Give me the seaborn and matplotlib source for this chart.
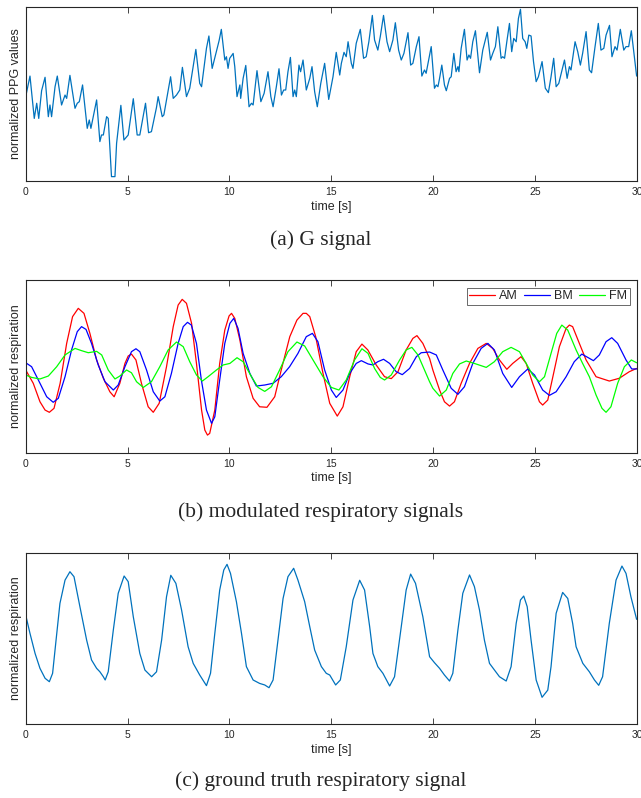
import matplotlib
matplotlib.use("Agg")
import matplotlib.pyplot as plt
import seaborn as sns
import pandas as pd

# ---- (a) G signal (PPG), time in s, normalized value 0..100
ppg_t = [0.00, 0.21, 0.42, 0.54, 0.64, 0.78, 0.95, 1.11, 1.19, 1.27, 1.44, 1.55, 1.76, 1.93, 2.01,
         2.17, 2.42, 2.53, 2.63, 2.79, 3.02, 3.12, 3.20, 3.48, 3.64, 3.72, 3.81, 3.97, 4.05, 4.21,
         4.38, 4.46, 4.67, 4.82, 5.03, 5.28, 5.47, 5.60, 5.88, 6.03, 6.17, 6.42, 6.50, 6.70, 6.78,
         7.11, 7.24, 7.40, 7.56, 7.69, 7.89, 8.05, 8.35, 8.54, 8.63, 8.87, 8.99, 9.15, 9.49,
         9.60, 9.77, 9.85, 9.93, 10.01, 10.18, 10.26, 10.37, 10.51, 10.55, 10.67, 10.80, 10.96, 11.08,
         11.16, 11.35, 11.54, 11.70, 11.89, 12.03, 12.14, 12.30, 12.43, 12.55, 12.66, 12.76, 12.87,
         12.99, 13.12, 13.20, 13.28, 13.41, 13.49, 13.61, 13.77, 13.94, 14.05, 14.18, 14.31, 14.48,
         14.67, 14.87, 15.08, 15.24, 15.41, 15.49, 15.62, 15.73, 15.82, 15.98, 16.06, 16.22, 16.42,
         16.58, 16.71, 16.84, 17.01, 17.12, 17.28, 17.40, 17.56, 17.73, 17.86, 18.02, 18.14, 18.30,
         18.43, 18.56, 18.76, 18.89, 19.00, 19.17, 19.30, 19.44, 19.57, 19.65, 19.82,
         19.90, 20.06, 20.15, 20.23, 20.31, 20.42, 20.55, 20.64, 20.80, 20.88, 21.01, 21.12, 21.21,
         21.26, 21.37, 21.53, 21.66, 21.75, 21.83, 21.94, 22.07, 22.27, 22.43, 22.65, 22.81, 22.92,
         23.05, 23.17, 23.33, 23.41, 23.50, 23.61, 23.74, 23.85, 23.95, 24.07, 24.18, 24.28, 24.39,
         24.51, 24.59, 24.69, 24.80, 24.92, 25.05, 25.16, 25.34, 25.50, 25.65, 25.78, 25.91, 26.03,
         26.16, 26.32, 26.44, 26.57, 26.68, 26.76, 26.96, 27.09, 27.22, 27.33, 27.50, 27.66, 27.77,
         27.94, 28.10, 28.23, 28.37, 28.48, 28.65, 28.77, 28.92, 29.02, 29.18, 29.35, 29.46, 29.59,
         29.72, 29.87, 29.98]
ppg_v = [48.4, 60.2, 35.9, 44.6, 35.9, 51.8, 59.5, 36.9, 43.6, 36.9, 54.1, 60.2, 43.6, 49.3, 47.4,
         60.6, 41.7, 44.6, 45.5, 55.1, 30.2, 35.0, 30.2, 46.5, 22.6, 26.4, 26.4, 36.9, 35.9, 2.5,
         2.5, 21.6, 43.4, 23.5, 26.4, 47.2, 26.4, 26.4, 44.6, 27.7, 28.3, 42.3, 48.4, 36.9, 37.9,
         59.8, 47.4, 49.3, 52.2, 65.2, 48.4, 53.2, 75.5, 56.0, 54.1, 76.1, 83.2, 64.6, 80.5,
         87.0, 69.4, 71.3, 64.6, 70.4, 73.2, 65.6, 48.4, 55.1, 47.4, 58.9, 66.3, 42.6, 44.6,
         43.6, 63.3, 45.5, 50.3, 62.7, 48.4, 42.6, 54.1, 64.4, 49.3, 52.2, 52.2, 62.7,
         70.9, 48.4, 52.2, 48.4, 66.5, 62.7, 69.4, 52.2, 58.9, 65.6, 51.2, 42.6, 56.0,
         67.5, 46.8, 59.8, 73.8, 60.8, 67.5, 73.8, 71.3, 79.9, 67.5, 64.6, 79.0, 87.0,
         70.4, 71.3, 79.9, 95.0, 80.9, 75.1, 82.8, 95.0, 79.9, 74.2, 80.9, 90.8, 75.1,
         69.4, 73.2, 85.1, 66.5, 67.5, 77.1, 82.8, 60.2, 63.7, 61.8, 72.3,
         77.1, 53.2, 55.1, 54.1, 58.9, 66.5, 55.1, 51.8, 58.9, 59.8, 73.2, 62.7, 65.6,
         62.7, 76.1, 87.0, 69.4, 72.3, 70.4, 79.9, 86.2, 62.1, 75.1, 85.3, 69.4, 73.2,
         77.1, 88.5, 70.4, 71.3, 70.4, 79.9, 90.4, 74.2, 81.8, 79.9, 93.3, 98.5, 81.8,
         79.9, 76.1, 83.7, 83.2, 68.5, 57.0, 59.8, 68.5, 53.2, 50.7, 59.8, 70.4, 54.1,
         56.0, 63.7, 69.4, 58.9, 65.6, 63.7, 79.9, 74.2, 66.5, 73.2, 85.7, 63.7, 62.1,
         77.1, 90.4, 75.1, 76.1, 83.7, 89.3, 71.3, 77.1, 75.1, 87.0, 75.1, 77.1, 77.1,
         86.2, 71.3, 60.2]

# ---- (b) modulated respiratory signals
am_t = [0.00, 0.37, 0.70, 0.95, 1.16, 1.39, 1.69, 2.01, 2.30, 2.58, 2.86, 3.15, 3.48, 3.81, 4.13,
        4.34, 4.62, 4.87, 5.03, 5.19, 5.41, 5.68, 6.01, 6.26, 6.55, 6.91, 7.24, 7.48, 7.68, 7.89,
        8.14, 8.38, 8.63, 8.79, 8.92, 9.03, 9.28, 9.52, 9.77, 9.98, 10.10, 10.26, 10.51, 10.83,
        11.16, 11.48, 11.84, 12.22, 12.54, 12.96, 13.31, 13.61, 13.77, 13.94, 14.23, 14.59, 14.92,
        15.29, 15.57, 15.90, 16.22, 16.50, 16.79, 17.20, 17.61, 17.94, 18.27, 18.67, 19.00, 19.20,
        19.49, 19.82, 19.98, 20.31, 20.55, 20.80, 21.04, 21.37, 21.78, 22.19, 22.60, 22.92, 23.25,
        23.61, 23.90, 24.31, 24.56, 24.88, 25.21, 25.37, 25.62, 25.87, 26.19, 26.52, 26.68, 26.84,
        27.17, 27.50, 27.99, 28.64, 29.13, 29.62, 29.98]
am_v = [47.9, 40.2, 29.5, 24.7, 23.4, 25.7, 40.2, 63.3, 78.8, 83.6, 80.7, 69.1, 53.7, 43.1, 35.3,
        32.4, 40.2, 51.7, 56.0, 57.1, 53.7, 40.2, 26.6, 23.4, 28.6, 49.8, 73.0, 85.5, 88.8, 86.5,
        74.9, 51.7, 24.7, 13.1, 10.2, 11.2, 24.7, 51.7, 71.0, 79.2, 80.7, 77.8, 65.3, 44.0,
        31.5, 26.6, 26.3, 32.4, 47.9, 67.2, 76.8, 80.7, 80.7, 78.8, 67.2, 45.9, 28.6,
        21.2, 26.6, 44.0, 58.5, 62.9, 59.5, 50.8, 44.0, 42.9, 46.9, 59.5, 66.2, 67.8,
        63.3, 54.6, 47.9, 36.3, 29.5, 27.0, 29.5, 40.2, 51.7, 60.4, 63.3, 60.4, 53.7,
        48.3, 51.7, 55.6, 51.7, 40.2, 29.5, 27.6, 30.5, 44.0, 61.4, 72.0, 73.9, 73.0,
        63.3, 53.7, 44.0, 41.5, 43.1, 46.9, 48.8]
bm_t = [0.00, 0.29, 0.62, 1.03, 1.35, 1.60, 1.93, 2.25, 2.53, 2.74, 2.96, 3.23, 3.56, 3.89, 4.30,
        4.54, 4.87, 5.19, 5.41, 5.60, 5.93, 6.26, 6.58, 6.83, 7.15, 7.48, 7.73, 7.94, 8.13, 8.38,
        8.62, 8.87, 9.12, 9.28, 9.52, 9.77, 10.02, 10.21, 10.42, 10.67, 11.00, 11.32, 11.73, 12.14,
        12.54, 12.95, 13.36, 13.77, 14.07, 14.34, 14.67, 15.00, 15.24, 15.57, 15.90, 16.22, 16.47,
        16.80, 17.04, 17.28, 17.56, 17.86, 18.18, 18.48, 18.84, 19.17, 19.41, 19.82, 20.15, 20.47,
        20.88, 21.21, 21.53, 21.94, 22.35, 22.68, 23.00, 23.41, 23.85, 24.23, 24.64, 24.97, 25.37,
        25.70, 26.03, 26.52, 26.92, 27.29, 27.58, 27.86, 28.15, 28.48, 28.76, 29.05, 29.46, 29.74,
        29.98]
bm_v = [52.1, 49.8, 42.1, 32.4, 29.2, 31.5, 44.0, 59.5, 70.1, 73.0, 71.4, 63.3, 50.8, 41.1, 36.3,
        39.2, 49.8, 58.5, 60.2, 58.5, 47.9, 35.3, 29.9, 32.4, 45.9, 63.3, 73.0, 75.5, 73.9, 63.3,
        42.1, 24.7, 17.0, 20.8, 42.1, 63.3, 74.9, 77.8, 72.0, 57.5, 45.9, 38.6, 39.2, 40.2,
        44.0, 49.8, 57.5, 67.2, 69.1, 64.3, 47.9, 36.3, 32.0, 36.3, 45.9, 51.7, 53.3,
        51.4, 50.8, 52.7, 54.1, 51.7, 46.9, 45.2, 48.8, 55.6, 57.9, 58.3, 56.6, 47.9,
        37.3, 33.8, 38.2, 51.7, 60.4, 63.3, 59.5, 45.9, 37.8, 44.0, 48.5, 45.0, 36.3,
        33.2, 35.3, 44.0, 52.7, 57.1, 55.2, 53.3, 56.6, 64.3, 66.6, 63.3, 53.7, 48.5,
        48.5]
fm_t = [0.00, 0.29, 0.70, 1.11, 1.52, 1.93, 2.42, 2.74, 3.07, 3.48, 3.73, 4.05, 4.38, 4.62, 4.95,
        5.19, 5.44, 5.77, 6.17, 6.58, 6.99, 7.40, 7.73, 8.05, 8.38, 8.67, 8.95, 9.36, 9.69, 10.02,
        10.37, 10.67, 11.08, 11.40, 11.73, 12.06, 12.46, 12.87, 13.31, 13.69, 14.10, 14.59, 15.00,
        15.37, 15.73, 16.14, 16.50, 16.80, 17.12, 17.40, 17.61, 17.94, 18.35, 18.67, 18.95, 19.25,
        19.57, 19.82, 19.98, 20.31, 20.64, 20.96, 21.29, 21.62, 22.02, 22.60, 23.00, 23.41, 23.82,
        24.23, 24.56, 24.88, 25.21, 25.46, 25.78, 26.06, 26.31, 26.60, 27.01, 27.33, 27.66, 27.99,
        28.28, 28.48, 28.72, 29.05, 29.38, 29.72, 29.98]
fm_v = [45.0, 43.6, 42.7, 44.4, 49.8, 56.6, 60.4, 59.1, 57.9, 58.7, 56.6, 47.9, 42.7, 44.4, 47.9,
        46.3, 41.1, 37.8, 41.1, 49.8, 59.5, 64.1, 61.4, 52.7, 45.0, 41.5, 44.0, 47.9, 50.8, 51.7,
        55.0, 52.7, 44.0, 37.8, 35.5, 38.2, 47.9, 58.5, 64.1, 61.8, 53.7, 44.0, 37.8,
        36.3, 42.1, 53.7, 60.2, 57.5, 48.8, 43.6, 42.1, 45.0, 53.7, 59.5, 61.0, 56.6,
        47.9, 41.1, 37.3, 32.8, 36.3, 45.9, 51.4, 53.1, 51.7, 49.4, 52.7, 58.5, 61.0,
        58.5, 51.7, 45.0, 41.1, 44.0, 57.5, 69.1, 73.9, 71.0, 59.5, 51.7, 44.0, 33.4,
        25.7, 23.4, 26.6, 40.2, 49.8, 53.7, 52.1]

# ---- (c) ground truth respiratory signal
resp_t = [0.00, 0.21, 0.46, 0.70, 0.95, 1.16, 1.32, 1.49, 1.68, 1.93, 2.17, 2.37, 2.66, 2.99, 3.23,
          3.48, 3.64, 3.81, 3.90, 4.05, 4.30, 4.54, 4.83, 5.03, 5.28, 5.60, 5.85, 6.18, 6.42, 6.67,
          6.91, 7.12, 7.37, 7.65, 7.97, 8.22, 8.54, 8.87, 9.07, 9.28, 9.52, 9.72, 9.88, 10.05, 10.34,
          10.59, 10.83, 11.16, 11.48, 11.73, 11.94, 12.14, 12.38, 12.63, 12.87, 13.15, 13.36, 13.69,
          13.94, 14.18, 14.51, 14.75, 14.92, 15.21, 15.44, 15.73, 16.06, 16.39, 16.63, 16.88, 17.04,
          17.28, 17.53, 17.86, 18.10, 18.43, 18.67, 18.89, 19.13, 19.49, 19.82, 20.06, 20.31, 20.55,
          20.80, 20.96, 21.21, 21.45, 21.78, 22.02, 22.27, 22.51, 22.76, 23.25, 23.58, 23.82, 24.07,
          24.28, 24.44, 24.61, 24.80, 25.05, 25.34, 25.62, 25.78, 26.03, 26.35, 26.60, 26.84, 27.01,
          27.34, 27.66, 27.91, 28.12, 28.31, 28.64, 28.97, 29.26, 29.46, 29.70, 29.98]
resp_v = [63.6, 52.9, 41.2, 32.5, 26.7, 24.7, 29.6, 49.0, 70.4, 84.0, 88.9, 86.0, 68.5, 49.0, 37.4,
          32.5, 30.5, 27.6, 25.7, 30.5, 54.9, 76.3, 86.4, 83.1, 62.6, 41.2, 31.5, 27.6, 30.5, 49.0,
          74.3, 86.8, 82.1, 66.5, 45.1, 35.4, 28.6, 22.4, 29.6, 52.9, 78.2, 89.9, 93.2, 87.9, 71.4,
          52.9, 33.5, 25.7, 23.7, 22.8, 21.2, 25.7, 49.0, 73.3, 86.0, 90.9, 84.0, 71.4,
          56.8, 43.2, 33.5, 29.6, 28.6, 22.8, 25.7, 45.1, 72.4, 83.9, 78.2, 56.8, 41.2,
          33.5, 29.6, 22.2, 27.6, 56.8, 78.2, 87.5, 82.1, 62.6, 39.3, 35.8, 32.5, 28.6,
          25.1, 29.6, 54.9, 76.3, 87.0, 80.2, 66.5, 49.0, 35.4, 27.6, 25.1, 33.5, 58.8,
          72.4, 74.7, 68.5, 49.0, 25.7, 15.6, 19.8, 33.5, 64.6, 76.8, 73.3, 58.8, 45.1,
          35.4, 30.5, 25.7, 22.6, 27.6, 58.8, 84.0, 92.2, 87.9, 74.3, 61.1]

x_ticks = [0, 5, 10, 15, 20, 25, 30]
captions = ["(a) G signal", "(b) modulated respiratory signals",
            "(c) ground truth respiratory signal"]

sns.set_theme(style="ticks")
plt.rcParams['font.family'] = ['Liberation Sans', 'DejaVu Sans']

fig = plt.figure(figsize=(6.41, 7.98), dpi=100)
ax_a = fig.add_axes([0.0401, 0.7732, 0.9537, 0.2184])
ax_b = fig.add_axes([0.0401, 0.4327, 0.9537, 0.2164])
ax_c = fig.add_axes([0.0401, 0.0927, 0.9537, 0.2147])

matlab_blue = "#0072BD"
edge = "#262626"


def style_axis(ax, ylabel):
    ax.set_xlim(0, 30)
    ax.set_ylim(0, 100)
    ax.set_xticks(x_ticks)
    ax.set_xticklabels([str(t) for t in x_ticks])
    ax.set_yticks([])
    ax.tick_params(axis="x", direction="in", top=True, bottom=True, length=4.5,
                   width=0.6, labelsize=7.5, pad=4.5, colors=edge)
    for s in ax.spines.values():
        s.set_visible(True)
        s.set_color(edge)
        s.set_linewidth(0.8)
    ax.set_xlabel("time [s]", fontsize=9, labelpad=2.5, color=edge)
    ax.set_ylabel(ylabel, fontsize=9, labelpad=2.5, color=edge)


sns.lineplot(x=ppg_t, y=ppg_v, ax=ax_a, color=matlab_blue, linewidth=0.9, estimator=None)
style_axis(ax_a, "normalized PPG values")

mod = pd.concat([
    pd.DataFrame({"t": am_t, "v": am_v, "signal": "AM"}),
    pd.DataFrame({"t": bm_t, "v": bm_v, "signal": "BM"}),
    pd.DataFrame({"t": fm_t, "v": fm_v, "signal": "FM"}),
])
sns.lineplot(data=mod, x="t", y="v", hue="signal", ax=ax_b, estimator=None, linewidth=0.9,
             palette={"AM": "#FF0000", "BM": "#0000FF", "FM": "#00FF00"})
style_axis(ax_b, "normalized respiration")
leg = ax_b.legend(ncol=3, loc="upper right", fontsize=9, frameon=True, fancybox=False,
                  handlelength=2.1, columnspacing=0.5, handletextpad=0.3,
                  borderpad=0.2, borderaxespad=0.6)
leg.get_frame().set_edgecolor(edge)
leg.get_frame().set_linewidth(0.6)

sns.lineplot(x=resp_t, y=resp_v, ax=ax_c, color=matlab_blue, linewidth=0.9, estimator=None)
style_axis(ax_c, "normalized respiration")

for y, txt in zip([0.699, 0.358, 0.0213], captions):
    fig.text(0.5, y, txt, ha="center", va="center", fontsize=15.5,
             family=["Liberation Serif", "DejaVu Serif"])

fig.savefig("out.png", dpi=100)
